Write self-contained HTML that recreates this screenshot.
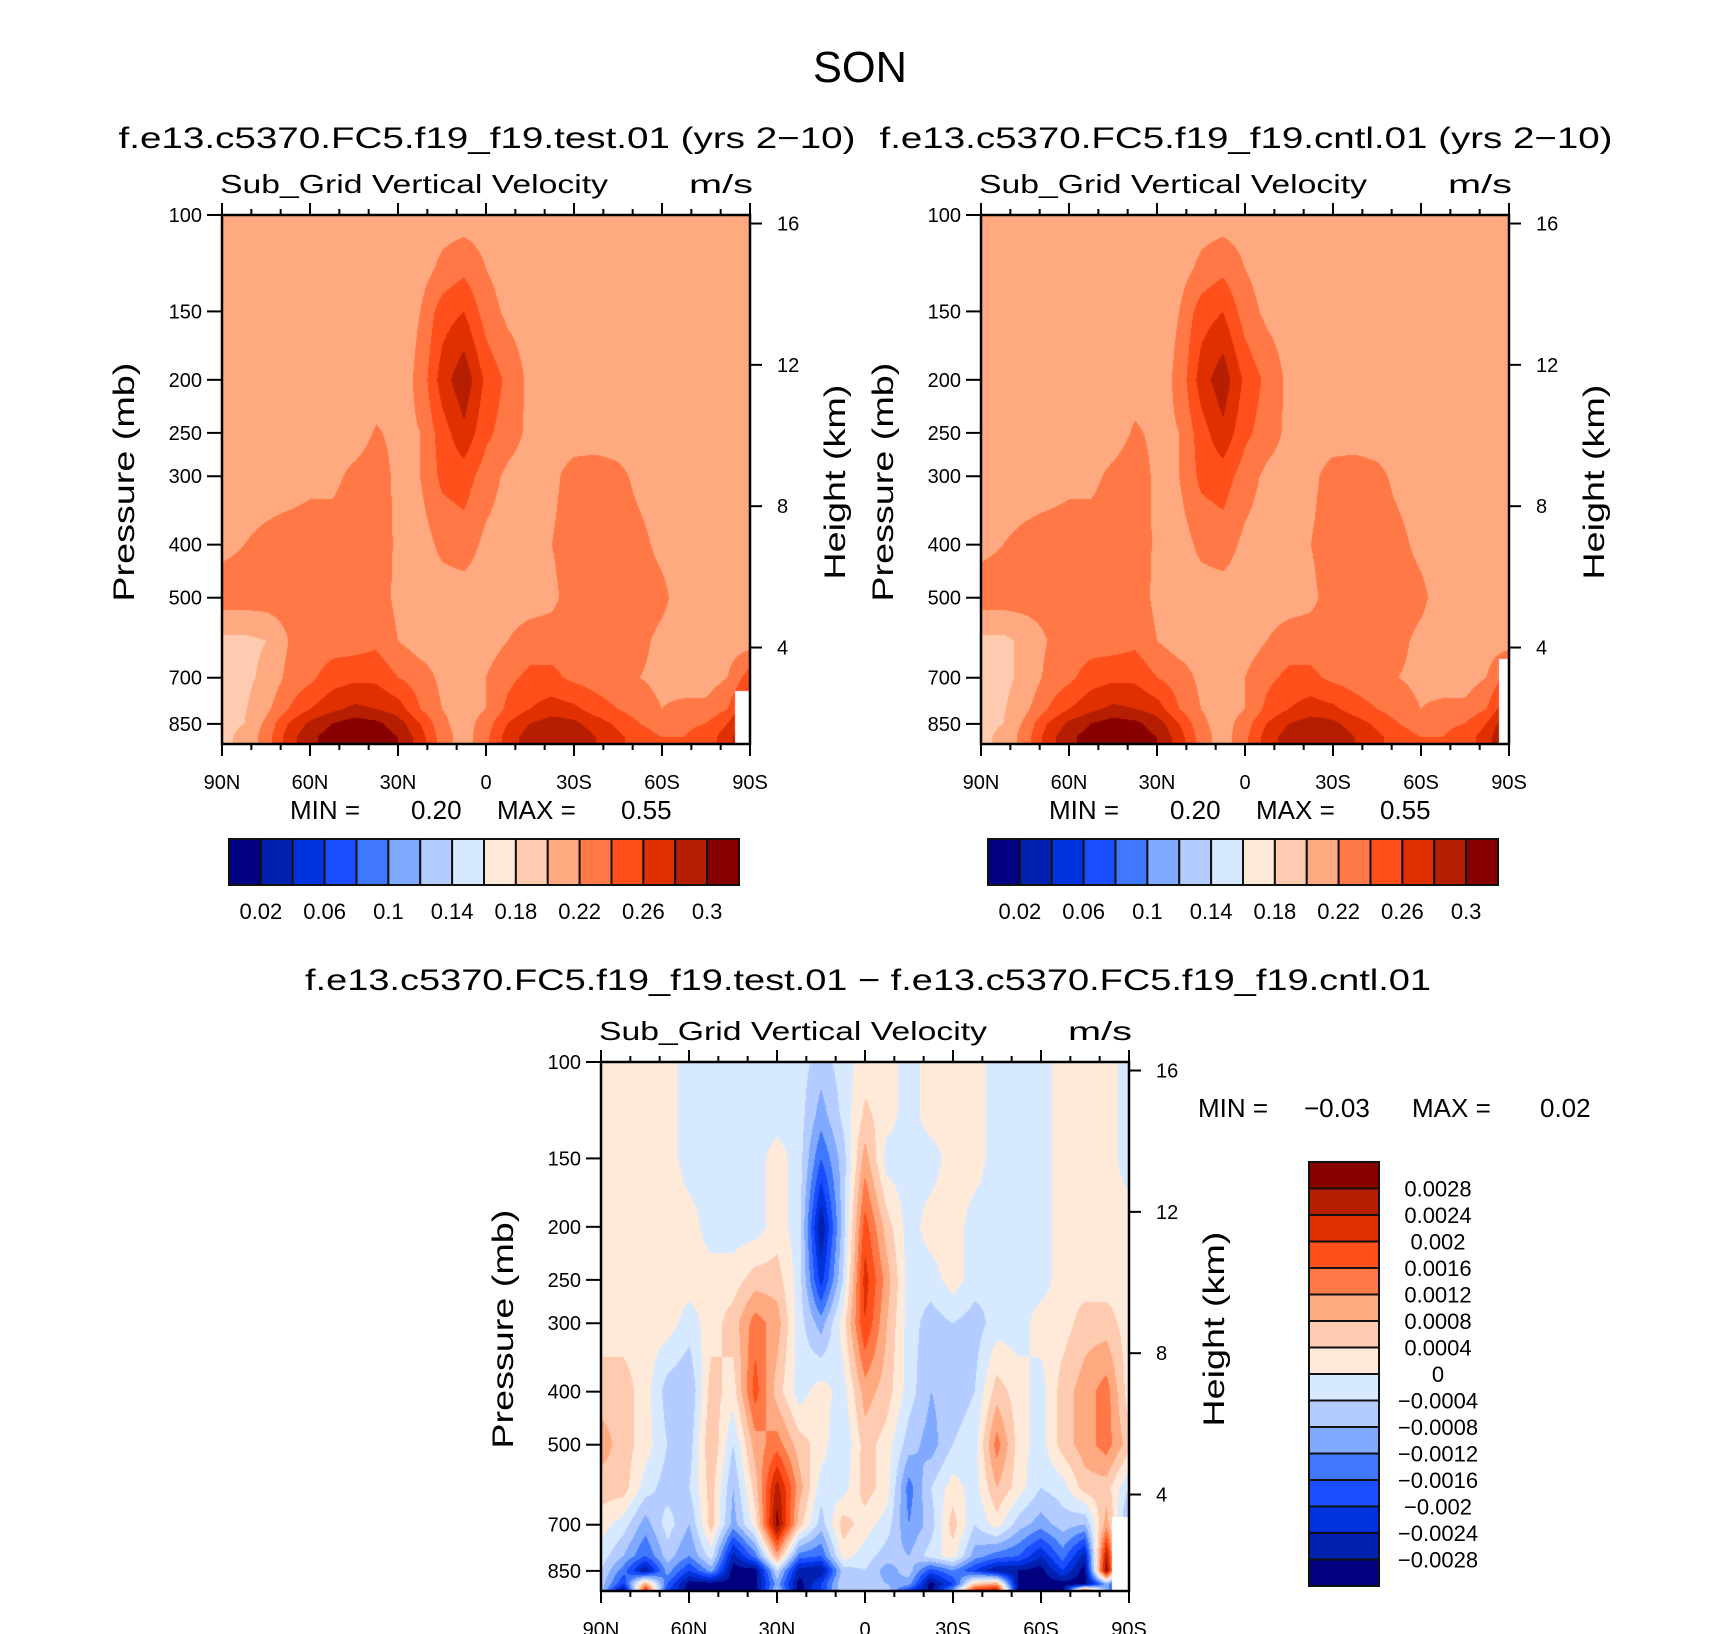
<!DOCTYPE html>
<html><head><meta charset="utf-8">
<style>
html,body{margin:0;padding:0;background:#fff;}
#wrap{position:relative;width:1710px;height:1634px;overflow:hidden;background:#fff;font-family:"Liberation Sans",sans-serif;}
canvas{position:absolute;}
svg{position:absolute;left:0;top:0;}
text{font-family:"Liberation Sans",sans-serif;fill:#000;}
</style></head>
<body>
<div id="wrap">
<canvas id="c1" width="528" height="529" style="left:222px;top:215px"></canvas>
<canvas id="c2" width="528" height="529" style="left:981px;top:215px"></canvas>
<canvas id="c3" width="528" height="529" style="left:601px;top:1062px"></canvas>
<svg id="svg" width="1710" height="1634"></svg>
</div>
<script>
// ---- data ----
const pressures=[100,125,150,200,250,300,400,500,600,700,800,850,900,925];
const latTickLabels=['90N','60N','30N','0','30S','60S','90S'];
const pressTickValues=[100,150,200,250,300,400,500,700,850];
const heightTickValues=[16,12,8,4];
const barColors=['#000080','#0020b0','#0033e0','#1a4dff','#4077ff','#80aaff','#b4ccff','#d6e9ff','#ffeada','#ffcbb0','#ffa980','#ff7845','#ff4f1a','#e03000','#b51e00','#880000'];
const meanBarLabels=['0.02','0.06','0.1','0.14','0.18','0.22','0.26','0.3'];
const diffBarLabels=['0.0028','0.0024','0.002','0.0016','0.0012','0.0008','0.0004','0','\u22120.0004','\u22120.0008','\u22120.0012','\u22120.0016','\u22120.002','\u22120.0024','\u22120.0028'];
const R21=[21,21,21,21,21,21,21,21,21,21,21,21,21,21,21,21,21,21,21,21,21,21,21,21,21];
// test field (units 0.01 m/s), rows = pressures, cols 90N..90S every 7.5 deg
const fieldTest=[
R21,
[21,21,21,21,21,21,21,21,21,21,22.5,23.5,22,21,21,21,21,21,21,21,21,21,21,21,21],
[21,21,21,21,21,21,21,21,21,22,25,26,23,21.5,21,21,21,21,21,21,21,21,21,21,21],
[21,21,21,21,21,21,21,21,21,22.5,27,29.5,25.5,23.5,21.5,21,21,21,21,21,21,21,21,21,21],
[21,21,21,21,21,21,21,22.2,21.5,22,25,27.5,24.5,23,21.5,21,21,21,21,21,21,21,21,21,21],
[21,21,21,21,21.5,21.5,22.5,23,21.5,22,24.5,25,23,21.5,21,21.5,22.8,23,22.5,21.5,21,21,21,21,21],
[21.5,22,22.5,23,23,23,23,23.5,21.5,21,22.5,23,21.5,21,21,22,23,23,23,22.5,21.5,21,21,21,21],
[23,23,23,23,23,23,23,23,21.5,21,21,21,21,21,21,21.5,23,23,23,23,22.5,21,21,21,21],
[19.5,19.5,20,22,23,23,23,23.5,22,21,21,21,21,22,23,23,23,23,23,22.5,21.5,21,21,21,21],
[19.5,19.5,20.5,22.5,23.5,25,25.5,25.5,24,23,21.5,21,22,23.5,24.5,24.5,23.5,23,22.5,22,21.5,21,21,22,25],
[19.5,19.8,21.5,24,26,27.5,28.5,28,27,24,22,21,22,24.5,26,27,26.5,25,24,23,22,22.5,22.5,24,28],
[19.5,20,22.5,26,28.5,30,31,30.5,29,26,22.5,21,23,26,28,29,28.5,27,25.5,24,23,23.5,24,26,30],
[19.5,20.5,23,27,29.5,31,31.5,31,30,27,23,21,23.5,27,29,30,29.5,28,26.5,25,24,24,25,27,31],
[19.5,20.5,23,27,29.5,31,31.5,31,30,27,23,21,23.5,27,29,30,29.5,28,26.5,25,24,24,25,27,31]
];
const fieldCntl=[
R21,
[21,21,21,21,21,21,21,21,21,21,22.5,23.5,22,21,21,21,21,21,21,21,21,21,21,21,21],
[21,21,21,21,21,21,21,21,21,22,25,26,23,21.5,21,21,21,21,21,21,21,21,21,21,21],
[21,21,21,21,21,21,21,21,21,22.5,27,29.3,25.5,23.5,21.5,21,21,21,21,21,21,21,21,21,21],
[21,21,21,21,21,21,21,22.3,21.5,22,25,27.5,24.5,23,21.5,21,21,21,21,21,21,21,21,21,21],
[21,21,21,21,21.5,21.5,22.5,23.2,21.5,22,24.5,25,23,21.5,21,21.5,22.8,23,22.5,21.5,21,21,21,21,21],
[21.5,22,22.5,23,23,23,23,23.5,21.5,21,22.5,23,21.5,21,21,22,23,23,23,22.5,21.5,21,21,21,21],
[23,23,23,23,23,23,23,23,21.5,21,21,21,21,21,21,21.5,23,23,23,23,22.5,21,21,21,21],
[19.5,19.5,20.5,22,23,23,23,23.5,22,21,21,21,21,22,23,23,22.5,22.5,23,22.5,21.5,21,21,21,21],
[19.5,19.5,20.5,22.5,23.5,25,25.5,25.5,24,23,21.5,21,22,23.5,24.5,24.5,23.5,23,22.5,22,21.5,21,21,22,25],
[19.5,19.8,21.5,24,26,27.5,28.5,28,27,24,22,21,22,24.5,26,27,26.5,25,24,23,22,22.5,22.5,24,28],
[19.5,20,22.5,26,28.5,30,31,30.5,29,26,22.5,21,23,26,28,29,28.5,27,25.5,24,23,23.5,24,26,30],
[19.5,20.5,23,27,29.5,31,31.5,31,30,27,23,21,23.5,27,29,30,29.5,28,26.5,25,24,24,25,27,31],
[19.5,20.5,23,27,29.5,31,31.5,31,30,27,23,21,23.5,27,29,30,29.5,28,26.5,25,24,24,25,27,31]
];
// difference field (units 1e-4 m/s)
const fieldDiff=[
[2,2,2,2,-2,-2,-2,-2,-2,-2,-6,-2,2,2,-2,2,2,2,-2,-2,-2,2,2,2,-2],
[2,2,2,2,-2,-2,-2,-2,-2,-2,-10,-3,5,2,-2,2,2,2,-2,-2,-2,2,2,2,-2],
[2,2,2,2,-2,-2,-2,-2,2,-2,-16,-6,10,-2,-2,-2,2,2,-2,-2,-2,2,2,2,-2],
[2,2,2,2,2,-2,-2,-2,2,-2,-28,-6,18,6,-2,2,2,-2,-2,-2,-2,2,2,2,2],
[2,2,2,2,2,2,2,6,6,-2,-22,-4,22,10,-2,-2,2,-2,-4,-2,-2,2,2,2,2],
[2,2,2,2,-2,2,6,14,10,-2,-10,2,20,8,-2,-6,-4,-6,-2,-2,2,2,6,6,2],
[6,6,2,-6,-8,6,2,18,6,-2,2,-2,10,6,-2,-8,-6,-4,6,2,-2,6,10,14,2],
[10,6,2,-4,-6,8,-4,10,14,6,2,-4,6,2,-6,-10,-4,-2,14,2,-2,6,10,14,6],
[6,6,-2,-6,-4,6,-8,6,26,10,-2,-2,6,2,-14,-4,2,-2,8,2,-4,-2,6,6,-4],
[2,-2,-10,-2,-8,6,-10,2,30,6,-6,6,2,-2,-12,-6,6,-4,2,-6,-10,-6,-8,10,-10],
[-2,-8,-16,-6,-12,-2,-26,-14,10,-14,-16,2,-2,-6,-8,-2,2,-10,-14,-16,-24,-14,-26,26,-30],
[-4,-14,-28,-10,-20,-10,-30,-30,-4,-26,-28,-6,-4,-10,-6,-18,-12,-20,-28,-28,-30,-20,-30,30,-30],
[-6,-20,10,-16,-30,-30,-30,-30,-10,-30,-20,-4,-6,-8,-10,-30,-20,6,10,-30,-30,-30,-30,-10,-30],
[-6,-30,22,-20,-30,-30,-30,-30,-6,-30,-20,-4,-4,-6,-20,-30,-10,22,26,-30,-30,-30,20,-10,-30]
];

// ---- scales ----
const PB=925;
function yFrac(p){return Math.log10(p/100)/Math.log10(PB/100);}
function heightToP(z){return 1117*Math.exp(-z/6.73);}
function xFrac(lat){return (90-lat)/180;}
function hexRgb(h){return [parseInt(h.substr(1,2),16),parseInt(h.substr(3,2),16),parseInt(h.substr(5,2),16)];}
const rgb=barColors.map(hexRgb);
const rowY=pressures.map(yFrac);

function drawField(id,field,idxFn,blank){
  const cv=document.getElementById(id),ctx=cv.getContext('2d');
  const W=cv.width,H=cv.height,img=ctx.createImageData(W,H),d=img.data;
  const nc=field[0].length-1;
  for(let py=0;py<H;py++){
    const yf=py/(H-1);
    let k=0;while(k<rowY.length-2&&yf>rowY[k+1])k++;
    const t=Math.min(1,Math.max(0,(yf-rowY[k])/(rowY[k+1]-rowY[k])));
    const r0=field[k],r1=field[k+1];
    for(let px=0;px<W;px++){
      const xf=px/(W-1);
      const c=xf*nc;let i=Math.min(nc-1,Math.floor(c));const u=c-i;
      const v=(r0[i]*(1-u)+r0[i+1]*u)*(1-t)+(r1[i]*(1-u)+r1[i+1]*u)*t;
      let o=(py*W+px)*4;
      let col;
      if(blank&&xf>blank[0]&&yf>blank[1]) col=[255,255,255];
      else col=rgb[Math.max(0,Math.min(15,idxFn(v)))];
      d[o]=col[0];d[o+1]=col[1];d[o+2]=col[2];d[o+3]=255;
    }
  }
  ctx.putImageData(img,0,0);
}
const meanIdx=v=>Math.floor((v-2)/2)+1;
const diffIdx=v=>Math.floor((v+28)/4)+1;
drawField('c1',fieldTest,meanIdx,[0.972,0.9]);
drawField('c2',fieldCntl,meanIdx,[0.982,0.84]);
drawField('c3',fieldDiff,diffIdx,[0.968,0.86]);

// ---- SVG overlay ----
const svg=document.getElementById('svg');const NS='http://www.w3.org/2000/svg';
function mk(tag,attrs,parent){const e=document.createElementNS(NS,tag);for(const k in attrs)e.setAttribute(k,attrs[k]);(parent||svg).appendChild(e);return e;}
function txt(s,x,y,size,anchor,len){const e=mk('text',{x:x,y:y,'font-size':size,'text-anchor':anchor||'start'});if(len){e.setAttribute('textLength',len);e.setAttribute('lengthAdjust','spacingAndGlyphs');}e.textContent=s;return e;}

let t;
t=txt('SON',860,82,44,'middle',94);



function panel(px,py,W,H,title,tx,tlen,name){
  const g=mk('g',{});
  
  
  if(title){const tt=txt(title,tx,148,30,'middle',tlen);g.appendChild(tt);
    
    }
  const st=txt('Sub_Grid Vertical Velocity',px-2,py-22,26,'start',388);g.appendChild(st);
  
  
  const un=txt('m/s',px+W+3,py-22,26,'end',64);g.appendChild(un);
  
  
  const fr=mk('rect',{x:px,y:py,width:W,height:H,fill:'none',stroke:'#000','stroke-width':2.5},g);
  
  
  pressTickValues.forEach(p=>{
    const y=py+yFrac(p)*H;
    mk('line',{x1:px-15,x2:px,y1:y,y2:y,stroke:'#000','stroke-width':2},g);
    const l=txt(String(p),px-20,y+7,20,'end');g.appendChild(l);
    
    
  });
  heightTickValues.forEach(z=>{
    const y=py+yFrac(heightToP(z))*H;
    mk('line',{x1:px+W,x2:px+W+12,y1:y,y2:y,stroke:'#000','stroke-width':2},g);
    const l=txt(String(z),px+W+27,y+7,20,'start');g.appendChild(l);
    
    
  });
  for(let lat=90;lat>=-90;lat-=10){
    const x=px+xFrac(lat)*W;const major=(lat%30===0);
    const L=major?12:6;
    mk('line',{x1:x,x2:x,y1:py+H,y2:py+H+L,stroke:'#000','stroke-width':2},g);
    mk('line',{x1:x,x2:x,y1:py,y2:py-L,stroke:'#000','stroke-width':2},g);
  }
  latTickLabels.forEach((s,i)=>{
    const x=px+i/6*W;
    const l=txt(s,x,py+H+45,20,'middle');g.appendChild(l);
    
    
  });
  const ya=txt('Pressure (mb)',0,0,30,'middle',239);g.appendChild(ya);
  ya.setAttribute('transform','translate('+(px-88)+','+(py+H*0.505)+') rotate(-90)');
  
  
  const ha=txt('Height (km)',0,0,30,'middle',195);g.appendChild(ha);
  ha.setAttribute('transform','translate('+(px+W+95)+','+(py+H*0.505)+') rotate(-90)');
  
  
  svg.appendChild(g);
}
panel(222,215,528,529,'f.e13.c5370.FC5.f19_f19.test.01 (yrs 2\u221210)',487,737,'test-panel');
panel(981,215,528,529,'f.e13.c5370.FC5.f19_f19.cntl.01 (yrs 2\u221210)',1246,733,'cntl-panel');
panel(601,1062,528,529,null,0,0,'difference-panel');
t=txt('f.e13.c5370.FC5.f19_f19.test.01 \u2212 f.e13.c5370.FC5.f19_f19.cntl.01',868,990,30,'middle',1126);



function minmax(x0,y,minv,maxv,dx){
  const parts=[['MIN =',x0],[minv,x0+dx[0]],['MAX =',x0+dx[1]],[maxv,x0+dx[2]]];
  parts.forEach(p=>{const e=txt(p[0],p[1],y,26,'start');
    
    });
}
minmax(290,819,'0.20','0.55',[121,207,331]);
minmax(1049,819,'0.20','0.55',[121,207,331]);
minmax(1198,1117,'\u22120.03','0.02',[106,214,342]);

function hbar(x0,y0,W,H,name){
  const bw=W/16;
  barColors.forEach((c,i)=>{
    const r=mk('rect',{x:x0+i*bw,y:y0,width:bw,height:H,fill:c,stroke:'#111','stroke-width':2});
    
    
  });
  meanBarLabels.forEach((s,i)=>{
    const x=x0+(1+2*i)*bw;
    const l=txt(s,x,y0+H+34,22,'middle');
    
    
  });
}
hbar(229,839,510,46,'test-colorbar');
hbar(988,839,510,46,'cntl-colorbar');
(function(){
  const x0=1309,y0=1162,W=70,H=424,bh=H/16;
  barColors.slice().reverse().forEach((c,i)=>{
    const r=mk('rect',{x:x0,y:y0+i*bh,width:W,height:bh,fill:c,stroke:'#111','stroke-width':2});
    
    
  });
  diffBarLabels.forEach((s,i)=>{
    const y=y0+(i+1)*bh+8;
    const l=txt(s,1438,y,22,'middle');
    
    
  });
})();
</script>
</body></html>
